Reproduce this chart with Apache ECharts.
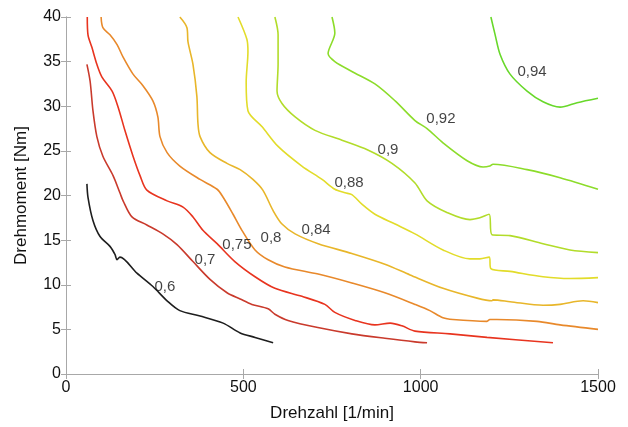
<!DOCTYPE html>
<html>
<head>
<meta charset="utf-8">
<script src="https://cdn.jsdelivr.net/npm/echarts@6/dist/echarts.min.js"></script>
<style>
html,body{margin:0;padding:0;background:#fff}
#chart{width:628px;height:427px}
</style>
</head>
<body>
<div id="chart"></div>
<script>
// efficiency contour lines, [Drehzahl, Drehmoment]
var eta060 = [[59,21.3],[62,19.8],[76,17.2],[96,15.4],[124,14.3],[138,13.4],[144,12.8],[152,13.1],[200,11.3],[245,9.8],[285,8.2],[321,7.1],[378,6.5],[443,5.7],[491,4.6],[533,4.1],[584,3.5]]
var eta070 = [[59,34.7],[68,32.8],[76,29.5],[87,26.6],[104,24.4],[133,22.2],[152,20.3],[161,19.4],[186,17.6],[228,16.7],[273,15.7],[313,14.5],[358,12.6],[406,10.6],[454,9.1],[491,8.4],[524,7.8],[570,7.3],[589,6.7],[626,6.0],[710,5.2],[806,4.5],[899,4.0],[984,3.6],[1018,3.5]]
var eta075 = [[60,40],[62,38.0],[73,36.6],[87,34.7],[101,33.3],[130,31.7],[147,29.9],[166,27.3],[189,24.4],[209,22.2],[228,20.6],[285,19.4],[330,18.7],[358,17.6],[386,16.1],[426,14.6],[476,12.6],[533,10.9],[589,9.6],[665,8.7],[730,7.8],[758,6.9],[815,6.0],[871,5.5],[914,5.7],[947,5.4],[984,4.8],[1083,4.5],[1187,4.1],[1373,3.5]]
var eta080 = [[99,40],[104,38.8],[124,38.0],[144,36.9],[161,35.5],[189,33.6],[217,32.3],[245,30.6],[259,28.8],[265,26.6],[285,24.8],[321,23.3],[378,21.8],[426,20.7],[443,19.8],[471,17.9],[496,16.1],[533,13.9],[570,12.8],[617,12.0],[711,11.2],[806,10.2],[899,9.1],[984,7.8],[1026,7.1],[1063,6.3],[1091,6.1],[1187,5.9],[1195,6.1],[1215,6.1],[1328,5.9],[1393,5.5],[1500,5.0]]
var eta084 = [[321,40],[341,38.8],[344,37.2],[358,34.7],[369,31.1],[372,28.1],[378,26.6],[406,24.8],[454,23.6],[491,22.9],[527,21.8],[555,20.6],[584,18.3],[609,16.8],[646,15.7],[711,14.6],[806,13.5],[899,12.3],[970,11.1],[1063,9.6],[1159,8.5],[1201,8.2],[1204,8.3],[1252,8.1],[1345,7.7],[1393,7.8],[1458,8.2],[1500,8.0]]
var eta088 = [[485,40],[510,37.5],[513,36.1],[508,32.7],[513,29.5],[553,27.7],[598,25.5],[665,23.3],[722,21.8],[758,20.7],[787,20.3],[806,20.1],[835,19.0],[871,17.9],[928,16.8],[984,15.7],[1063,13.9],[1139,12.9],[1167,12.9],[1193,13.1],[1198,11.8],[1252,11.5],[1345,10.9],[1421,10.7],[1500,10.8]]
var eta090 = [[589,40],[598,38.0],[598,34.7],[595,31.7],[609,30.3],[646,28.8],[702,27.3],[778,26.2],[851,25.1],[919,23.6],[984,21.4],[1018,19.4],[1074,18.1],[1139,17.3],[1167,17.5],[1193,17.9],[1201,15.6],[1252,15.5],[1345,14.6],[1421,13.9],[1500,13.6]]
var eta092 = [[750,40],[758,38.2],[739,35.9],[758,35.0],[806,33.9],[871,32.5],[928,30.6],[984,28.4],[1018,27.5],[1063,25.9],[1131,23.9],[1176,23.2],[1195,23.3],[1204,23.5],[1300,22.9],[1393,22.0],[1500,20.7]]
var eta094 = [[1198,40],[1210,38.0],[1224,35.8],[1252,33.6],[1300,31.7],[1345,30.5],[1393,29.9],[1441,30.4],[1500,30.9]]

var levelNames = ['0,6','0,7','0,75','0,8','0,84','0,88','0,9','0,92','0,94']
var labelX = [279,392,482,578,705,798,908,1057,1314]
var labelY = [9.8,12.8,14.5,15.2,16.2,21.4,25.1,28.6,33.8]

var xTicks = [0,500,1000,1500]
var yTicks = [0,5,10,15,20,25,30,35,40]

var curves = [eta060,eta070,eta075,eta080,eta084,eta088,eta090,eta092,eta094]
var colors = ['#1e1e1e','#c93a2c','#e8341f','#e8892b','#e8b62a','#e2dc2a','#b2dc2a','#8cdc2a','#68d82a']

var chart = echarts.init(document.getElementById('chart'))

var series = curves.map(function(c,i){
    return {
        name:levelNames[i],
        type:'line',
        data:c,
        showSymbol:false,
        smooth:0.3,
        lineStyle:{color:colors[i],width:1.6},
        z:2
    }
})
series.push({
    type:'scatter',
    symbolSize:0,
    data:labelX.map(function(x,i){return [x,labelY[i],levelNames[i]]}),
    label:{
        show:true,
        position:'inside',
        formatter:function(p){return p.data[2]},
        color:'#111',
        fontSize:15,
        fontFamily:'Liberation Sans, Arial, sans-serif'
    },
    z:5
})

var axisFont = {color:'#111',fontSize:16,fontFamily:'Liberation Sans, Arial, sans-serif'}
var lineGrey = {color:'#a8a8a8',width:1}

chart.setOption({
    animation:false,
    backgroundColor:'#fff',
    grid:{left:66,right:30,top:17,bottom:48},
    xAxis:[
        {
            type:'value',min:0,max:1500,interval:500,
            name:'Drehzahl [1/min]',nameLocation:'middle',nameGap:31,
            nameTextStyle:{color:'#111',fontSize:17,fontFamily:'Liberation Sans, Arial, sans-serif'},
            axisLine:{show:true,lineStyle:lineGrey},
            axisTick:{show:true,inside:true,length:5,lineStyle:lineGrey},
            axisLabel:Object.assign({margin:6,formatter:function(v){return xTicks.indexOf(v)>=0?String(v):''}},axisFont),
            splitLine:{show:false}
        },
        {
            type:'value',min:0,max:1500,interval:500,position:'top',
            axisLine:{show:true,lineStyle:lineGrey},
            axisTick:{show:true,inside:true,length:5,lineStyle:lineGrey},
            axisLabel:{show:false},
            splitLine:{show:false}
        }
    ],
    yAxis:[
        {
            type:'value',min:0,max:40,interval:5,
            name:'Drehmoment [Nm]',nameLocation:'middle',nameGap:36,
            nameTextStyle:{color:'#111',fontSize:17,fontFamily:'Liberation Sans, Arial, sans-serif'},
            axisLine:{show:true,lineStyle:lineGrey},
            axisTick:{show:true,inside:true,length:5,lineStyle:lineGrey},
            axisLabel:Object.assign({margin:5,formatter:function(v){return yTicks.indexOf(v)>=0?String(v):''}},axisFont),
            splitLine:{show:false}
        },
        {
            type:'value',min:0,max:40,interval:5,position:'right',
            axisLine:{show:true,lineStyle:lineGrey},
            axisTick:{show:true,inside:true,length:5,lineStyle:lineGrey},
            axisLabel:{show:false},
            splitLine:{show:false}
        }
    ],
    series:series
})
</script>
</body>
</html>
